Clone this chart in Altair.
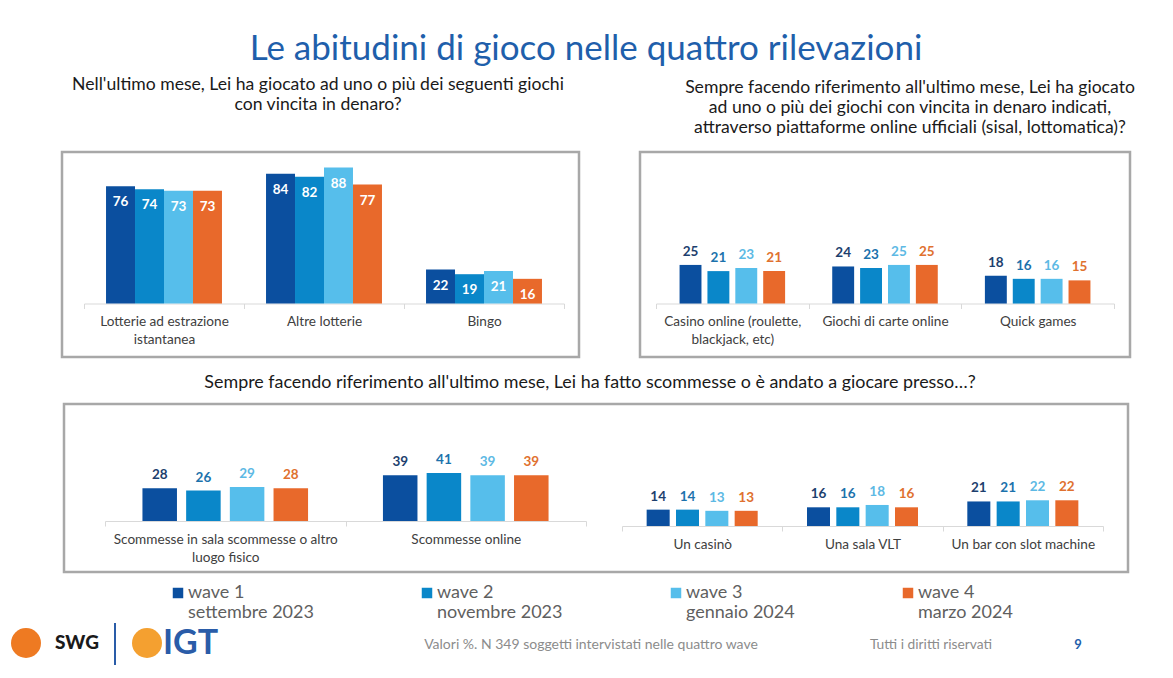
import altair as alt
import pandas as pd

FONT = "Lato"

# ---------------- texts ----------------
title_text = "Le abitudini di gioco nelle quattro rilevazioni"
q1_lines = ["Nell'ultimo mese, Lei ha giocato ad uno o più dei seguenti giochi",
            "con vincita in denaro?"]
q2_lines = ["Sempre facendo riferimento all'ultimo mese, Lei ha giocato",
            "ad uno o più dei giochi con vincita in denaro indicati,",
            "attraverso piattaforme online ufficiali (sisal, lottomatica)?"]
q3_text = "Sempre facendo riferimento all'ultimo mese, Lei ha fatto scommesse o è andato a giocare presso…?"
note_text = "Valori %. N 349 soggetti intervistati nelle quattro wave"
rights_text = "Tutti i diritti riservati"
page_text = "9"
logo1_text = "SWG"
logo2_text = "IGT"

# ---------------- data ----------------
waves = ["wave 1", "wave 2", "wave 3", "wave 4"]
wave_dates = ["settembre 2023", "novembre 2023", "gennaio 2024", "marzo 2024"]
bar_colors = ["#0B4F9F", "#0A87C9", "#56BEEB", "#E8692B"]
label_colors = ["#1D3F6E", "#1C72AC", "#5DB9E4", "#E0712F"]

cats_1 = ["Lotterie ad estrazione|istantanea", "Altre lotterie", "Bingo"]
vals_1 = [[76, 74, 73, 73], [84, 82, 88, 77], [22, 19, 21, 16]]

cats_2 = ["Casino online (roulette,|blackjack, etc)", "Giochi di carte online", "Quick games"]
vals_2 = [[25, 21, 23, 21], [24, 23, 25, 25], [18, 16, 16, 15]]

cats_3a = ["Scommesse in sala scommesse o altro|luogo fisico", "Scommesse online"]
vals_3a = [[28, 26, 29, 28], [39, 41, 39, 39]]

cats_3b = ["Un casinò", "Una sala VLT", "Un bar con slot machine"]
vals_3b = [[14, 14, 13, 13], [16, 16, 18, 16], [21, 21, 22, 22]]


def long_df(cats, vals):
    rows = []
    for c, vs in zip(cats, vals):
        for w, v in zip(waves, vs):
            rows.append({"cat": c, "wave": w, "value": v})
    return pd.DataFrame(rows)


dummy = pd.DataFrame({"k": [0]})
NOSTROKE = alt.ViewBackground(stroke=None)
FRAME = alt.ViewBackground(stroke="#a8a8a8", strokeWidth=2.5)

color_scale = alt.Scale(domain=waves, range=bar_colors)
fill_scale = alt.Scale(domain=waves, range=label_colors)

legend_expr = "".join(
    f"datum.label == '{w}' ? ['{w}', '{d}'] : " for w, d in zip(waves, wave_dates)
) + "datum.label"


def axis_x(offset):
    return alt.Axis(title=None, orient="bottom", offset=offset, labelAngle=0,
                    labelExpr="split(datum.label, '|')", labelFont=FONT, labelFontSize=13.6,
                    labelColor="#404040", labelLineHeight=18, labelPadding=6, labelLimit=400,
                    labelOverlap=False, domainColor="#d9d9d9", tickColor="#d9d9d9",
                    tickSize=5, tickBand="extent", grid=False)


def bar_layers(cats, vals, x_range, y_domain, pad_in, pad_out, offset, inside, legend=None):
    df = long_df(cats, vals)
    base = alt.Chart(df).encode(
        x=alt.X("cat:N", sort=cats,
                scale=alt.Scale(domain=cats, range=x_range, paddingInner=0, paddingOuter=0),
                axis=axis_x(offset)),
        xOffset=alt.XOffset("wave:N", sort=waves,
                            scale=alt.Scale(domain=waves, paddingInner=pad_in, paddingOuter=pad_out)),
        y=alt.Y("value:Q", scale=alt.Scale(domain=y_domain, nice=False, zero=False), axis=None),
    )
    bars = base.mark_bar().encode(
        y2=alt.datum(0),
        color=alt.Color("wave:N", scale=color_scale, legend=legend),
    )
    if inside:
        text = base.mark_text(font=FONT, fontSize=13.5, fontWeight="bold", color="white",
                              dy=16, baseline="middle").encode(text="value:Q")
    else:
        text = base.mark_text(font=FONT, fontSize=13.5, fontWeight="bold",
                              dy=-13, baseline="middle").encode(
            text="value:Q", fill=alt.Fill("wave:N", scale=fill_scale, legend=None))
    return alt.layer(bars, text)


def txt(t, x, y, size, color, weight="normal", align="center", line_h=None):
    kw = dict(text=t, font=FONT, fontSize=size, color=color, fontWeight=weight,
              align=align, baseline="middle")
    if line_h:
        kw["lineHeight"] = line_h
    return alt.Chart(dummy).mark_text(**kw).encode(x=alt.value(x), y=alt.value(y))


def spacer(w, h):
    return alt.Chart(dummy).mark_text(text="").encode(
        x=alt.value(w / 2), y=alt.value(h / 2)).properties(width=w, height=h, view=NOSTROKE)


W = 1157

# ---------------- header ----------------
header = alt.layer(
    txt(title_text, 578, 41, 35, "#1F5FAB"),
    txt(q1_lines, 310, 77, 17.6, "#1a1a1a", line_h=20),
    txt(q2_lines, 902, 80, 17.6, "#1a1a1a", line_h=20),
).properties(width=W, height=142, view=NOSTROKE)

# ---------------- top panels ----------------
legend = alt.Legend(orient="none", legendX=161, legendY=576, direction="horizontal",
                    title=None, symbolType="square", symbolSize=110, symbolStrokeWidth=0,
                    labelFont=FONT, labelFontSize=18, labelColor="#5f5f5f",
                    labelExpr=legend_expr, labelOffset=1,
                    columnPadding=104, labelLimit=300)

panel1 = bar_layers(cats_1, vals_1, [22, 502], [-34.6, 98.1], 0, 0.76, -53.5, True,
                    legend=legend).properties(width=517, height=205, view=FRAME)
panel2 = bar_layers(cats_2, vals_2, [16, 474], [-34.6, 98.1], 0.214, 0.845, -53.5,
                    False).properties(width=490, height=205, view=FRAME)

row_panels = alt.hconcat(spacer(52, 205), panel1, spacer(57, 205), panel2,
                         spacing=0).resolve_scale(xOffset="independent")

# ---------------- middle question ----------------
mid = alt.layer(txt(q3_text, 582, 24, 17.9, "#1a1a1a")).properties(width=W, height=43, view=NOSTROKE)

# ---------------- bottom panel ----------------
p3a = bar_layers(cats_3a, vals_3a, [41, 522], [-43.6, 100], 0.21, 0.857, -51, False)
p3b = bar_layers(cats_3b, vals_3b, [558, 1039], [-39.3, 104.3], 0.215, 0.84, -46, False)
panel3 = alt.layer(p3a, p3b).resolve_scale(
    x="independent", y="independent", xOffset="independent"
).properties(width=1064, height=168, view=FRAME)

row3 = alt.hconcat(spacer(54, 168), panel3, spacing=0).resolve_scale(xOffset="independent")

# ---------------- footer ----------------
footer = alt.layer(
    alt.Chart(dummy).mark_circle(size=900, color="#EE7A22", opacity=1).encode(
        x=alt.value(18), y=alt.value(69)),
    txt(logo1_text, 47, 69, 19, "#1a1a1a", weight=900, align="left"),
    alt.Chart(dummy).mark_rule(color="#2A5CA8", strokeWidth=2).encode(
        x=alt.value(107), y=alt.value(49), y2=alt.value(91)),
    alt.Chart(dummy).mark_circle(size=900, color="#F4A030", opacity=1).encode(
        x=alt.value(139), y=alt.value(69)),
    txt(logo2_text, 155, 70, 34, "#2A5CA8", weight="bold", align="left"),
    txt(note_text, 583, 71, 14, "#8c8c8c"),
    txt(rights_text, 923, 71, 13.8, "#8c8c8c"),
    txt(page_text, 1070, 71, 13, "#1F5FAB", weight="bold"),
).properties(width=W, height=96, view=NOSTROKE)

chart = alt.vconcat(header, row_panels, mid, row3, footer, spacing=0).resolve_scale(
    xOffset="independent"
).properties(padding=0).configure_view(stroke=None)

chart.save("out.html", embed_options={"renderer": "svg", "actions": False})
